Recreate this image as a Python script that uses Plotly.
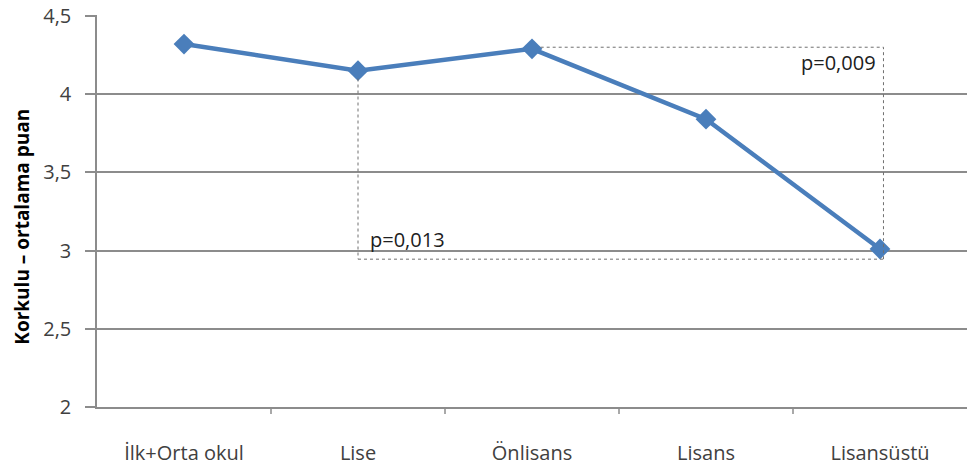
import plotly.graph_objects as go

categories = ["İlk+Orta okul", "Lise", "Önlisans", "Lisans", "Lisansüstü"]
values = [4.32, 4.15, 4.29, 3.84, 3.01]
y_ticks = [2, 2.5, 3, 3.5, 4, 4.5]
y_tick_labels = ["2", "2,5", "3", "3,5", "4", "4,5"]
p_labels = ["p=0,013", "p=0,009"]
y_title = "Korkulu – ortalama puan"

LINE = "#4a7ebb"
GRID = "#8c8c8c"
TXT = "#404040"
FONT = "Open Sans, Liberation Sans, sans-serif"

fig = go.Figure()
fig.add_trace(go.Scatter(
    x=list(range(len(categories))), y=values, mode="lines+markers",
    line=dict(color=LINE, width=4.5),
    marker=dict(symbol="diamond", size=16, color=LINE),
    showlegend=False, hoverinfo="skip",
))

# dotted comparison brackets
lise, onl, lsu = 1, 2, 4
right_x = lsu + 0.02
bottom_y = values[lsu] - 0.065
top_y = values[onl] + 0.01
dot = dict(color="#707070", width=1, dash="dot")
fig.add_shape(type="line", x0=lise, x1=lise, y0=values[lise] - 0.05, y1=bottom_y, line=dot)
fig.add_shape(type="line", x0=lise, x1=right_x, y0=bottom_y, y1=bottom_y, line=dot)
fig.add_shape(type="line", x0=right_x, x1=right_x, y0=bottom_y, y1=top_y, line=dot)
fig.add_shape(type="line", x0=onl + 0.05, x1=right_x, y0=top_y, y1=top_y, line=dot)

fig.add_annotation(x=lise + 0.06, y=3.07, text=p_labels[0], showarrow=False,
                   xanchor="left", yanchor="middle", font=dict(size=20, color="#202020", family=FONT))
fig.add_annotation(x=lsu - 0.01, y=4.2, text=p_labels[1], showarrow=False,
                   xanchor="right", yanchor="middle", font=dict(size=20, color="#202020", family=FONT))

# y-axis title
fig.add_annotation(xref="paper", yref="paper", x=0, y=0.46, xshift=-75, textangle=-90,
                   text="<b>" + y_title + "</b>", showarrow=False,
                   xanchor="center", yanchor="middle",
                   font=dict(size=19, color="#000000", family=FONT))

fig.update_layout(
    width=967, height=470,
    margin=dict(l=97, r=0, t=15, b=63, autoexpand=False),
    paper_bgcolor="white", plot_bgcolor="white",
    font=dict(family=FONT, color=TXT),
    xaxis=dict(
        type="linear", range=[-0.5, 4.5], automargin=False,
        tickmode="array", tickvals=list(range(len(categories))), ticktext=categories,
        showgrid=False, zeroline=False,
        showline=True, linecolor=GRID, linewidth=1.5,
        ticks="", tickfont=dict(size=20, color=TXT, family=FONT),
        ticklabelstandoff=27, ticklabeloverflow="allow",
    ),
    yaxis=dict(
        range=[2, 4.506], automargin=False,
        tickmode="array", tickvals=y_ticks, ticktext=y_tick_labels,
        showgrid=True, gridcolor=GRID, gridwidth=1.5, zeroline=False,
        showline=True, linecolor=GRID, linewidth=1.5,
        ticks="outside", ticklen=10, tickcolor=GRID, tickwidth=1.5,
        tickfont=dict(size=20, color=TXT, family=FONT),
        ticklabelstandoff=10, ticklabeloverflow="allow",
    ),
)

# x-axis boundary ticks
for b in [0.5, 1.5, 2.5, 3.5]:
    fig.add_shape(type="line", xref="x", yref="paper", x0=b, x1=b, y0=0, y1=-0.018,
                  line=dict(color=GRID, width=1.5))

fig.write_html("out.html", config={"displayModeBar": False},
               post_script="document.body.style.margin='0';")
